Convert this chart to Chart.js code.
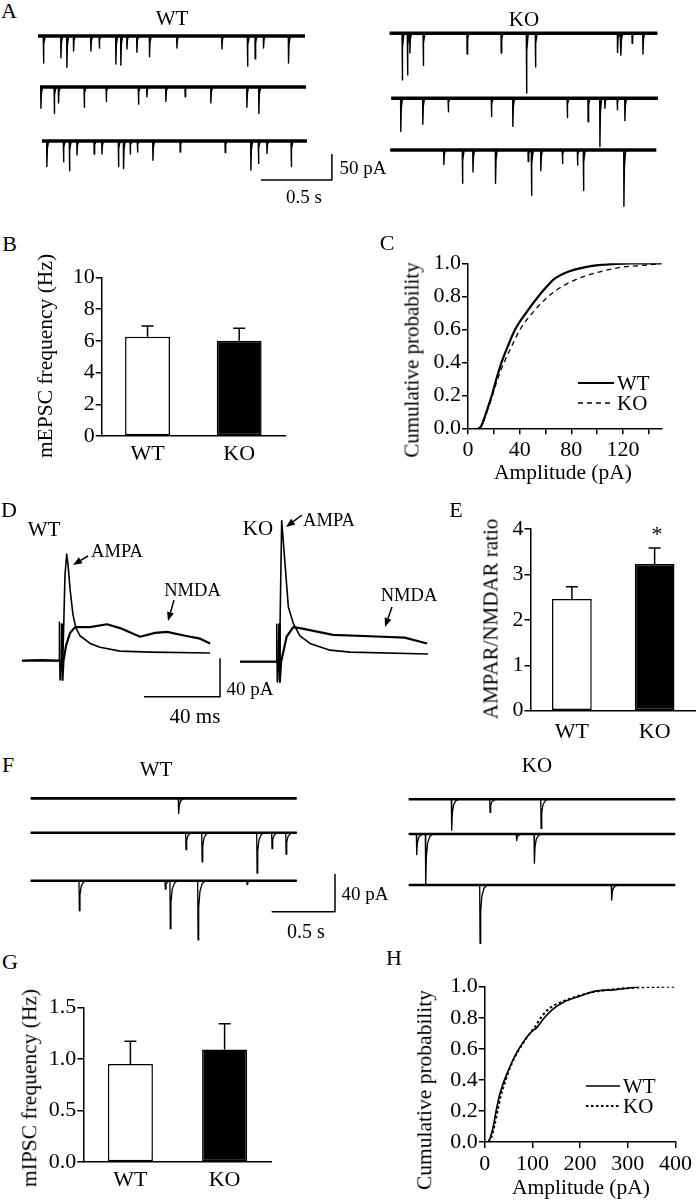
<!DOCTYPE html>
<html lang="en">
<head>
<meta charset="UTF-8">
<title>mEPSC / mIPSC figure</title>
<script src="https://cdn.jsdelivr.net/npm/chart.js"></script>
<style>
  body { margin: 0; background: #fff; }
  #fig { position: relative; width: 696px; height: 1200px; overflow: hidden;
         font-family: "Liberation Serif", "Times New Roman", serif; color: #000; }
  #fig canvas { position: absolute; }
  .t { position: absolute; white-space: nowrap; line-height: 1; transform: translate(-50%, -50%); }
  .t.v { transform: translate(-50%, -50%) rotate(-90deg); }
</style>
</head>
<body>
<div id="fig"></div>
<script>
// ---------- data ----------
const groups = ['WT', 'KO'];

// B: mEPSC frequency (Hz), mean and SEM
const mepscFreq = [6.26, 6.0];
const mepscSem = [0.67, 0.79];

// C: cumulative amplitude distribution of mEPSCs
const cWtAmp  = [8, 10, 13, 16, 18.5, 22, 26, 31, 36.6, 45, 54.6, 60, 66, 78, 90, 103, 126, 150];
const cWtProb = [0, 0.01, 0.07, 0.14, 0.2, 0.3, 0.4, 0.5, 0.6, 0.7, 0.8, 0.85, 0.9, 0.95, 0.975, 0.99, 1, 1];
const cKoAmp  = [8, 10, 13, 16, 19, 23, 28, 34, 40.4, 50, 62.3, 71, 83, 103, 118, 139, 150];
const cKoProb = [0, 0.01, 0.06, 0.13, 0.2, 0.3, 0.4, 0.5, 0.6, 0.7, 0.8, 0.85, 0.9, 0.95, 0.975, 0.99, 1];

// E: AMPAR/NMDAR ratio
const ratioMean = [2.46, 3.23];
const ratioSem = [0.27, 0.35];

// G: mIPSC frequency (Hz)
const mipscFreq = [0.95, 1.09];
const mipscSem = [0.22, 0.25];

// H: cumulative amplitude distribution of mIPSCs
const hWtAmp  = [7, 12, 18, 24, 31, 38, 48, 58, 68, 80, 95, 110, 125, 145, 165, 200, 230, 270, 300, 323];
const hWtProb = [0, 0.03, 0.1, 0.2, 0.3, 0.37, 0.45, 0.52, 0.58, 0.64, 0.7, 0.74, 0.8, 0.86, 0.9, 0.94, 0.97, 0.98, 0.99, 1];
const hKoAmp  = [8, 14, 20, 27, 34, 42, 52, 62, 75, 90, 105, 120, 140, 160, 195, 225, 260, 320, 400];
const hKoProb = [0, 0.03, 0.1, 0.2, 0.3, 0.38, 0.47, 0.54, 0.61, 0.68, 0.74, 0.81, 0.87, 0.9, 0.94, 0.965, 0.98, 0.995, 1];

// A: mEPSC sweeps, events as [time s, amplitude pA]
const aWtSpan = [[0, 1.88], [0.014, 1.887], [0.028, 1.894]];
const aWtSweep1 = [[0.037,52],[0.16,42],[0.202,60],[0.249,29],[0.371,29],[0.43,23],[0.547,54],[0.582,56],[0.625,25],[0.695,31],[0.784,40],[0.977,23],[1.294,25],[1.474,58],[1.528,44],[1.587,23],[1.763,52]];
const aWtSweep2 = [[0.019,41],[0.113,51],[0.143,31],[0.324,39],[0.479,28],[0.706,33],[0.765,19],[0.899,28],[1.035,19],[1.216,31],[1.47,39],[1.554,51]];
const aWtSweep3 = [[0.061,49],[0.178,40],[0.22,57],[0.273,27],[0.394,25],[0.449,25],[0.565,49],[0.601,53],[0.648,25],[0.699,21],[0.808,37],[1.0,21],[1.317,22],[1.498,56],[1.551,43],[1.611,24],[1.782,49]];
const aKoSpan = [[0, 1.885], [0.011, 1.889], [0.004, 1.877]];
const aKoSweep1 = [[0.087,90],[0.124,80],[0.141,38],[0.235,62],[0.544,40],[0.784,38],[0.962,115],[1.025,65],[1.603,37],[1.627,42],[1.706,19],[1.782,40]];
const aKoSweep2 = [[0.077,64],[0.232,50],[0.411,26],[0.715,35],[0.866,54],[1.249,37],[1.396,45],[1.479,93],[1.514,19],[1.601,22],[1.655,43]];
const aKoSweep3 = [[0.38,28],[0.511,64],[0.585,42],[0.744,64],[0.974,22],[0.997,87],[1.063,40],[1.215,26],[1.321,29],[1.363,78],[1.648,108]];

// D: evoked EPSCs, [time ms, current pA] (displayed inverted)
const dWtAmpa = [[-20,0],[-10,1],[-0.5,0],[-0.3,40],[0,-20],[0.6,-5],[1.6,11],[2.6,89],[3.5,111],[4.2,100],[5.3,74],[6.8,48],[8.4,34],[10.5,26],[15.8,18],[21,14],[31.6,10],[47.4,9],[79,8]];
const dWtNmda = [[-20,0],[0.8,0],[1.0,38],[1.3,-20],[1.8,0],[3.2,16],[5.3,29],[7.9,35],[15.8,35],[24.7,38],[31.6,34],[42.1,25],[50,29],[56.3,30],[65.8,26],[73.7,23],[79,18]];
const dKoAmpa = [[-19.6,0],[-0.5,0],[-0.3,39],[0,-21],[0.6,-5],[1.2,10],[2.3,147],[4.05,102],[5.8,57],[8.4,40],[11.9,27],[17.2,19],[27.7,12],[38.3,10],[79.3,8]];
const dKoNmda = [[-19.6,0],[0.8,0],[1.0,39],[1.3,-21],[2,0],[4.9,26],[8.4,36],[11.9,35],[29.3,28],[55.6,26],[67,25],[78.8,19]];

// F: mIPSC sweeps, events as [time s, amplitude pA]
const fWtSpan = [[0, 2.099], [0, 2.1], [0, 2.1]];
const fWtSweep1 = [[1.165,16]];
const fWtSweep2 = [[1.223,18],[1.35,31],[1.784,43],[1.902,17],[2.013,23]];
const fWtSweep3 = [[0.381,32],[1.06,9],[1.099,51],[1.318,63],[1.705,4]];
const fKoSpan = [[0, 2.104], [0, 2.104], [0, 2.104]];
const fKoSweep1 = [[0.336,33],[0.639,14],[1.042,31]];
const fKoSweep2 = [[0.06,22],[0.131,54],[0.849,7],[0.989,31]];
const fKoSweep3 = [[0.56,62],[1.599,16]];

// ---------- helpers ----------
Chart.defaults.font.family = '"Liberation Serif", "Times New Roman", serif';
Chart.defaults.color = '#000';
const fig = document.getElementById('fig');

function makeCanvas(left, top, w, h) {
  const c = document.createElement('canvas');
  c.width = w; c.height = h;
  c.style.left = left + 'px'; c.style.top = top + 'px';
  c.style.width = w + 'px'; c.style.height = h + 'px';
  fig.appendChild(c);
  return c;
}

function text(s, x, y, size, vertical) {
  const d = document.createElement('div');
  d.className = 't' + (vertical ? ' v' : '');
  d.textContent = s;
  d.style.left = x + 'px'; d.style.top = y + 'px'; d.style.fontSize = size + 'px';
  fig.appendChild(d);
}

// event shape templates: [dt (s), fraction of amplitude]
const fastShape = [[0,0],[0.0015,1],[0.005,0.3],[0.012,0.05],[0.02,0]];
const slowShape = [[0,0],[0.003,1],[0.008,0.45],[0.018,0.18],[0.035,0.05],[0.06,0]];

function sweepSets(sweeps, spans, offsets, shape, lw, noiseW) {
  const sets = [];
  sweeps.forEach((events, i) => {
    const off = offsets[i], [t0, t1] = spans[i];
    sets.push({ data: [{x: t0, y: off}, {x: t1, y: off}], borderWidth: noiseW });
    const pts = [{x: t0, y: off}];
    events.forEach(([t, a]) => shape.forEach(([dt, f]) => pts.push({x: t + dt, y: off - a * f})));
    pts.push({x: t1, y: off});
    sets.push({ data: pts, borderWidth: lw });
  });
  return sets;
}

const arrows = {
  id: 'arrows',
  afterDraw(chart, args, opts) {
    if (!opts.items) return;
    const ctx = chart.ctx, ox = chart.canvas.offsetLeft, oy = chart.canvas.offsetTop;
    ctx.save();
    ctx.strokeStyle = '#000'; ctx.fillStyle = '#000'; ctx.lineWidth = 1.5;
    opts.items.forEach(([x0, y0, x1, y1]) => {
      const ang = Math.atan2(y1 - y0, x1 - x0), L = 9, W = 3.5;
      const bx = x1 - ox - L * Math.cos(ang), by = y1 - oy - L * Math.sin(ang);
      ctx.beginPath(); ctx.moveTo(x0 - ox, y0 - oy); ctx.lineTo(bx, by); ctx.stroke();
      ctx.beginPath();
      ctx.moveTo(x1 - ox, y1 - oy);
      ctx.lineTo(bx - W * Math.sin(ang), by + W * Math.cos(ang));
      ctx.lineTo(bx + W * Math.sin(ang), by - W * Math.cos(ang));
      ctx.closePath(); ctx.fill();
    });
    ctx.restore();
  }
};

function traceChart(canvas, xr, yr, datasets, arrowItems) {
  datasets.forEach(d => { d.borderColor = '#000'; d.pointRadius = 0; d.fill = false; });
  return new Chart(canvas, {
    type: 'line',
    data: { datasets },
    options: {
      responsive: false, animation: false, devicePixelRatio: 1,
      layout: { padding: 0 },
      plugins: { legend: { display: false }, tooltip: { enabled: false }, arrows: { items: arrowItems } },
      elements: { line: { tension: 0, borderJoinStyle: 'round' } },
      scales: {
        x: { type: 'linear', display: false, min: xr[0], max: xr[1] },
        y: { type: 'linear', display: false, min: yr[0], max: yr[1] }
      }
    },
    plugins: [arrows]
  });
}

const errorBars = {
  id: 'errorBars',
  afterDatasetsDraw(chart) {
    const ds = chart.data.datasets[0], meta = chart.getDatasetMeta(0), y = chart.scales.y, ctx = chart.ctx;
    ctx.save();
    ctx.strokeStyle = '#000'; ctx.lineWidth = 1.5;
    meta.data.forEach((bar, i) => {
      const top = y.getPixelForValue(ds.data[i] + ds.errors[i]);
      ctx.beginPath();
      ctx.moveTo(bar.x, bar.y); ctx.lineTo(bar.x, top);
      ctx.moveTo(bar.x - 6, top); ctx.lineTo(bar.x + 6, top);
      ctx.stroke();
    });
    ctx.restore();
  }
};

function barChart(canvas, values, sems, ymax, step, fmt, g) {
  return new Chart(canvas, {
    type: 'bar',
    data: { labels: groups, datasets: [{
      data: values, errors: sems,
      backgroundColor: ['#fff', '#000'], borderColor: '#000', borderWidth: 1.5, borderSkipped: false,
      barPercentage: g.bar, categoryPercentage: 1
    }] },
    options: {
      responsive: false, animation: false, devicePixelRatio: 1,
      layout: { padding: { top: g.top, right: g.right, bottom: 0, left: 0 } },
      plugins: { legend: { display: false }, tooltip: { enabled: false } },
      scales: {
        x: { grid: { display: false, drawTicks: false }, border: { color: '#000', width: 1.5 },
             ticks: { font: { size: 22 }, padding: g.xpad }, afterFit: s => { s.height = g.xh; } },
        y: { min: 0, max: ymax,
             ticks: { stepSize: step, font: { size: 22 }, padding: 1, callback: fmt },
             grid: { drawOnChartArea: false, color: '#000', lineWidth: 1.5, tickLength: 6 },
             border: { color: '#000', width: 1.5 }, afterFit: s => { s.width = g.yw; } }
      }
    },
    plugins: [errorBars]
  });
}

const keyLegend = {
  id: 'keyLegend',
  afterDraw(chart, args, opts) {
    if (!opts.items) return;
    const ctx = chart.ctx, ox = chart.canvas.offsetLeft, oy = chart.canvas.offsetTop;
    ctx.save();
    opts.items.forEach(it => {
      const ds = chart.data.datasets[it.ds];
      ctx.strokeStyle = '#000'; ctx.lineWidth = ds.borderWidth; ctx.setLineDash(ds.borderDash || []);
      ctx.beginPath(); ctx.moveTo(it.x0 - ox, it.y - oy); ctx.lineTo(it.x1 - ox, it.y - oy); ctx.stroke();
      ctx.setLineDash([]);
      ctx.fillStyle = '#000'; ctx.font = '21px "Liberation Serif"'; ctx.textBaseline = 'middle';
      ctx.fillText(ds.label, it.x1 + 3 - ox, it.y - oy + 1);
    });
    ctx.restore();
  }
};

function pairs(xs, ys) { return xs.map((x, i) => ({ x, y: ys[i] })); }

function cumChart(canvas, series, xmax, xstep, xfmt, legendItems, g) {
  return new Chart(canvas, {
    type: 'line',
    data: { datasets: series },
    options: {
      responsive: false, animation: false, devicePixelRatio: 1,
      layout: { padding: { top: g.top, right: g.right, bottom: 0, left: 0 } },
      plugins: { legend: { display: false }, tooltip: { enabled: false }, keyLegend: { items: legendItems } },
      elements: { point: { radius: 0 }, line: { cubicInterpolationMode: 'monotone' } },
      scales: {
        x: { type: 'linear', min: 0, max: xmax,
             ticks: { stepSize: xstep, includeBounds: false, font: { size: 22 }, padding: 3, maxRotation: 0, autoSkip: false, callback: xfmt },
             grid: { drawOnChartArea: false, color: '#000', lineWidth: 1.5, tickLength: 6 },
             border: { color: '#000', width: 1.5 }, afterFit: s => { s.height = g.xh; } },
        y: { type: 'linear', min: 0, max: 1,
             ticks: { stepSize: 0.2, font: { size: 22 }, padding: 1, callback: v => v.toFixed(1) },
             grid: { drawOnChartArea: false, color: '#000', lineWidth: 1.5, tickLength: 6 },
             border: { color: '#000', width: 1.5 }, afterFit: s => { s.width = g.yw; } }
      }
    },
    plugins: [keyLegend]
  });
}

// ---------- A ----------
traceChart(makeCanvas(38, 20, 300, 190), [0, 2.113], [-334.6, 30.8], [
  ...sweepSets([aWtSweep1, aWtSweep2, aWtSweep3], aWtSpan, [0, -98, -202], fastShape, 1.4, 3.6),
  { data: [{x: 1.57, y: -277}, {x: 2.07, y: -277}, {x: 2.07, y: -227}], borderWidth: 1.5 }
]);
traceChart(makeCanvas(380, 15, 290, 200), [-0.068, 1.974], [-349.4, 35.2],
  sweepSets([aKoSweep1, aKoSweep2, aKoSweep3], aKoSpan, [0, -125, -224.5], fastShape, 1.4, 3.6));

// ---------- B ----------
barChart(makeCanvas(20, 250, 280, 220), mepscFreq, mepscSem, 10, 2, v => v,
  { bar: 0.49, top: 27.3, right: 15, xh: 34, yw: 81.7, xpad: 5 });

// ---------- C ----------
cumChart(makeCanvas(380, 240, 300, 245), [
  { label: 'WT', data: pairs(cWtAmp, cWtProb), borderColor: '#000', borderWidth: 2.2 },
  { label: 'KO', data: pairs(cKoAmp, cKoProb), borderColor: '#000', borderWidth: 1.3, borderDash: [5, 4] }
], 150, 20, v => (v % 40 === 0 ? v : ''),
  [{ ds: 0, x0: 578, x1: 614, y: 383 }, { ds: 1, x0: 578, x1: 614, y: 403 }],
  { top: 23.3, right: 18.4, xh: 56.7, yw: 88 });

// ---------- D ----------
const xy = arr => arr.map(([x, y]) => ({ x, y }));
traceChart(makeCanvas(15, 540, 225, 165), [-23.7, 94.7], [-46.1, 125.7], [
  { data: xy(dWtAmpa), borderWidth: 1.6 },
  { data: xy(dWtNmda), borderWidth: 2.2 },
  { data: [{x: 44.2, y: -37.5}, {x: 84.2, y: -37.5}, {x: 84.2, y: 2.5}], borderWidth: 1.5 }
], [[88, 556, 73, 565], [174, 600, 168, 621]]);
traceChart(makeCanvas(230, 500, 210, 200), [-24.9, 85.6], [-39.9, 168.4], [
  { data: xy(dKoAmpa), borderWidth: 1.6 },
  { data: xy(dKoNmda), borderWidth: 2.2 }
], [[302, 515, 286, 527], [392, 607, 385, 627]]);

// ---------- E ----------
barChart(makeCanvas(440, 500, 256, 260), ratioMean, ratioSem, 4, 1, v => v,
  { bar: 0.48, top: 29, right: 0, xh: 49.3, yw: 90.5, xpad: 8 });

// ---------- F ----------
traceChart(makeCanvas(25, 780, 320, 175), [-0.045, 2.481], [-166.7, 19.5], [
  ...sweepSets([fWtSweep1, fWtSweep2, fWtSweep3], fWtSpan, [0, -36.6, -87.7], slowShape, 1.3, 2.6),
  { data: [{x: 1.902, y: -120.6}, {x: 2.402, y: -120.6}, {x: 2.402, y: -80.4}], borderWidth: 1.5 }
]);
traceChart(makeCanvas(400, 780, 285, 175), [-0.069, 2.181], [-165.6, 20.5],
  sweepSets([fKoSweep1, fKoSweep2, fKoSweep3], fKoSpan, [0, -36.9, -91.2], slowShape, 1.3, 2.6));

// ---------- G ----------
barChart(makeCanvas(0, 980, 290, 215), mipscFreq, mipscSem, 1.5, 0.5, v => v.toFixed(1),
  { bar: 0.478, top: 27.3, right: 18.3, xh: 33, yw: 83.3, xpad: 5 });

// ---------- H ----------
cumChart(makeCanvas(390, 960, 305, 240), [
  { label: 'WT', data: pairs(hWtAmp, hWtProb), borderColor: '#000', borderWidth: 1.7 },
  { label: 'KO', data: pairs(hKoAmp, hKoProb), borderColor: '#000', borderWidth: 2, borderDash: [2.5, 2.5] }
], 400, 100, v => v,
  [{ ds: 0, x0: 586, x1: 620, y: 1086 }, { ds: 1, x0: 586, x1: 620, y: 1106 }],
  { top: 26.7, right: 18.7, xh: 58, yw: 94.7 });

// ---------- text ----------
[
  ['A', 9, 11, 22], ['WT', 172, 18, 21], ['KO', 524, 19, 21], ['50 pA', 363, 167, 19], ['0.5 s', 304, 196, 19],
  ['B', 9.5, 244, 22], ['mEPSC frequency (Hz)', 46, 356, 21.5, true],
  ['C', 387, 243, 22], ['Cumulative probability', 412, 360, 21, true], ['Amplitude (pA)', 563, 473, 21.5],
  ['D', 9, 510, 22], ['WT', 44, 529, 21], ['KO', 258, 528, 21],
  ['AMPA', 117, 551, 18.5], ['NMDA', 192.5, 590, 18.5], ['AMPA', 329, 520, 18.5], ['NMDA', 409, 595, 18.5],
  ['40 pA', 250, 688, 19], ['40 ms', 195, 716, 21],
  ['E', 456, 510, 22], ['AMPAR/NMDAR ratio', 491, 619, 21, true], ['*', 657, 534, 22],
  ['F', 8, 765, 22], ['WT', 156, 769, 21], ['KO', 537, 765, 21], ['40 pA', 365, 893, 19], ['0.5 s', 306, 931, 20],
  ['G', 10, 962, 22], ['mIPSC frequency (Hz)', 30, 1088, 21.5, true],
  ['H', 394, 958, 22], ['Cumulative probability', 425, 1090, 21.5, true], ['Amplitude (pA)', 581, 1188, 21.5]
].forEach(a => text(...a));
</script>
</body>
</html>
